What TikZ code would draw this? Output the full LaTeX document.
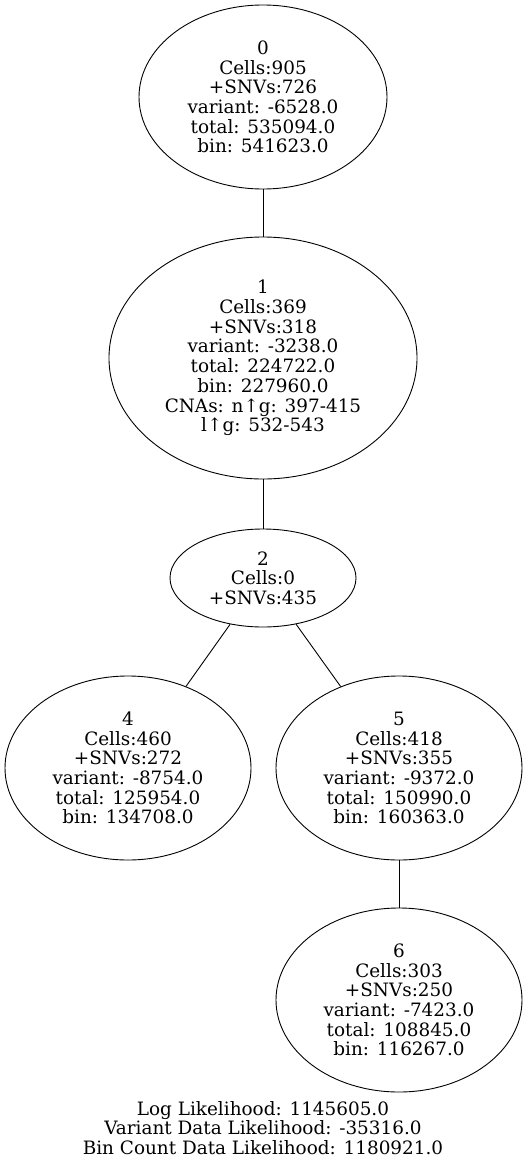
\documentclass[tikz,border=0pt]{standalone}
\usepackage{fontspec}
\setmainfont{DejaVu Serif}
\usetikzlibrary{shapes.geometric}
\begin{document}
\begin{tikzpicture}[x=1pt,y=-1pt,
  tnode/.style={draw,line width=0.9pt,ellipse,inner sep=0pt,align=center,font=\fontsize{18.4}{19.7}\selectfont},
  edge/.style={draw,line width=0.9pt}]
\useasboundingbox (0,0) rectangle (528,1164);
\node[tnode,minimum width=248,minimum height=184] (n0) at (263,97) {0\\Cells:905\\+SNVs:726\\variant: -6528.0\\total: 535094.0\\bin: 541623.0};
\node[tnode,minimum width=308,minimum height=242] (n1) at (263,358) {1\\Cells:369\\+SNVs:318\\variant: -3238.0\\total: 224722.0\\bin: 227960.0\\CNAs: n↑g: 397-415\\l↑g: 532-543};
\node[tnode,minimum width=186,minimum height=98] (n2) at (263,578) {2\\Cells:0\\+SNVs:435};
\node[tnode,minimum width=246,minimum height=184] (n4) at (128,768) {4\\Cells:460\\+SNVs:272\\variant: -8754.0\\total: 125954.0\\bin: 134708.0};
\node[tnode,minimum width=246,minimum height=184] (n5) at (399,768) {5\\Cells:418\\+SNVs:355\\variant: -9372.0\\total: 150990.0\\bin: 160363.0};
\node[tnode,minimum width=246,minimum height=184] (n6) at (399,1000) {6\\Cells:303\\+SNVs:250\\variant: -7423.0\\total: 108845.0\\bin: 116267.0};
\node[align=center,inner sep=0pt,font=\fontsize{18.4}{19.7}\selectfont] (legend) at (263,1128) {Log Likelihood: 1145605.0\\Variant Data Likelihood: -35316.0\\Bin Count Data Likelihood: 1180921.0};
\draw[edge] (n0) -- (n1);
\draw[edge] (n1) -- (n2);
\draw[edge] (n2) -- (n4);
\draw[edge] (n2) -- (n5);
\draw[edge] (n5) -- (n6);
\end{tikzpicture}
\end{document}
